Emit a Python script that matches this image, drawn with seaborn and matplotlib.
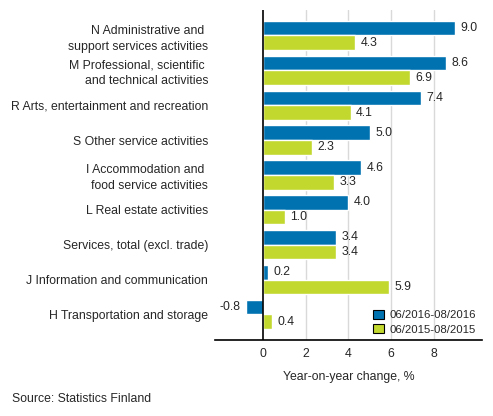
import seaborn as sns
import pandas as pd
import matplotlib.pyplot as plt
from matplotlib.patches import Patch

# Data
categories = [
    'N Administrative and \nsupport services activities',
    'M Professional, scientific \nand technical activities',
    'R Arts, entertainment and recreation',
    'S Other service activities',
    'I Accommodation and \nfood service activities',
    'L Real estate activities',
    'Services, total (excl. trade)',
    'J Information and communication',
    'H Transportation and storage',
]
series_names = ['06/2016-08/2016', '06/2015-08/2015']
values_2016 = [9.0, 8.6, 7.4, 5.0, 4.6, 4.0, 3.4, 0.2, -0.8]
values_2015 = [4.3, 6.9, 4.1, 2.3, 3.3, 1.0, 3.4, 5.9, 0.4]
xticks = [0, 2, 4, 6, 8]
colors = ['#0072b0', '#c2d82e']

data = pd.DataFrame({
    'Industry': categories * 2,
    'Period': [series_names[0]] * len(categories) + [series_names[1]] * len(categories),
    'Change': values_2016 + values_2015,
})

sns.set_style('white')
plt.rcParams['font.family'] = ['Liberation Sans', 'DejaVu Sans']
fs = 8.8

fig = plt.figure(figsize=(4.93, 4.16), dpi=100)
ax = fig.add_axes([0.436, 0.183, 0.542, 0.793])

sns.barplot(data=data, y='Industry', x='Change', hue='Period', orient='h',
            palette=colors, width=0.84, gap=0, saturation=1,
            ax=ax, legend=False)

# value labels
for cont, vals in zip(ax.containers, [values_2016, values_2015]):
    ax.bar_label(cont, labels=[f'{v:.1f}' for v in vals], padding=4, fontsize=fs)

ax.set_xlim(-2.27, 10.28)
ax.set_ylim(8.73, -0.73)
ax.set_xticks(xticks)
ax.set_xticklabels([str(t) for t in xticks], fontsize=fs)
ax.tick_params(axis='y', length=0, labelsize=fs, pad=5)
ax.tick_params(axis='x', length=0, pad=6)
for lbl in ax.get_yticklabels():
    lbl.set_multialignment('right')
    lbl.set_linespacing(1.4)

for t in [2, 4, 6, 8]:
    ax.axvline(t, color='#d9d9d9', lw=1, zorder=0)
ax.axvline(0, color='black', lw=1.2, zorder=3)

for s in ['top', 'right', 'left']:
    ax.spines[s].set_visible(False)
ax.spines['bottom'].set_color('black')
ax.spines['bottom'].set_linewidth(1.2)

ax.set_ylabel('')
ax.set_xlabel('Year-on-year change, %', fontsize=fs, labelpad=8)

# legend
handles = [Patch(facecolor=c, edgecolor='black', lw=0.8) for c in colors]
ax.legend(handles, series_names, loc='lower right', bbox_to_anchor=(1.015, -0.015),
          frameon=False, fontsize=8.2, handlelength=0.9, handleheight=0.9,
          handletextpad=0.5, labelspacing=0.3)

fig.text(0.024, 0.04, 'Source: Statistics Finland', fontsize=fs, ha='left', va='center')

fig.savefig('out.png', dpi=100)
